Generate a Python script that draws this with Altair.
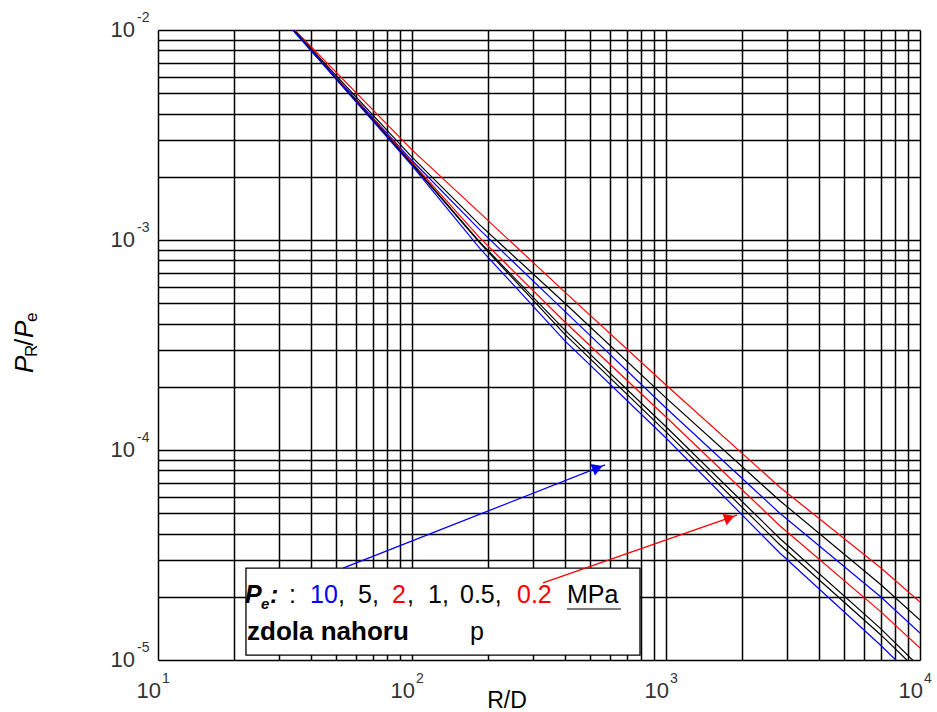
import altair as alt
import pandas as pd

W, H = 762, 630
L, T = 158, 30
FONT = "Liberation Sans"

# ---- data ----
rd = [34, 100, 185, 400, 1000, 2800, 7000, 10000]
series_names = ["0.2 top", "0.5", "blue mid", "2 red", "1", "5", "10 blue"]
series_colors = ["#ff0000", "#000000", "#0000ff", "#ff0000", "#000000", "#000000", "#0000ff"]
s_red_top = [1.02e-2, 2.685e-3, 1.346e-3, 5.65e-4, 2.04e-4, 6.67e-5, 2.75e-5, 1.89e-5]
s_black_top = [1.01e-2, 2.48e-3, 1.18e-3, 5.0e-4, 1.77e-4, 5.75e-5, 2.29e-5, 1.55e-5]
s_blue_mid = [1.0e-2, 2.39e-3, 1.117e-3, 4.57e-4, 1.585e-4, 5.01e-5, 2.0e-5, 1.345e-5]
s_red_mid = [1.0e-2, 2.34e-3, 1.023e-3, 4.07e-4, 1.435e-4, 4.37e-5, 1.70e-5, 1.14e-5]
s_black_b = [1.0e-2, 2.31e-3, 9.77e-4, 3.72e-4, 1.29e-4, 3.8e-5, 1.41e-5, 9.23e-6]
s_black_a = [1.0e-2, 2.29e-3, 9.68e-4, 3.55e-4, 1.22e-4, 3.55e-5, 1.32e-5, 8.7e-6]
s_blue_low = [1.0e-2, 2.26e-3, 9.12e-4, 3.31e-4, 1.14e-4, 3.24e-5, 1.175e-5, 7.7e-6]
all_series = [s_red_top, s_black_top, s_blue_mid, s_red_mid, s_black_b, s_black_a, s_blue_low]

x_grid = [k * 10 ** n for n in (1, 2, 3) for k in range(1, 10)] + [10000]
y_grid = [k * 10.0 ** n for n in (-5, -4, -3) for k in range(1, 10)] + [1e-2]
x_label_vals = [10, 100, 1000, 10000]
x_label_exp = ["1", "2", "3", "4"]
y_label_vals = [1e-2, 1e-3, 1e-4, 1e-5]
y_label_exp = ["-2", "-3", "-4", "-5"]

box_x = [22.2, 790]
box_y = [2.74e-5, 1.056e-5]
arrow_blue_x = [53.5, 575.6]
arrow_blue_y = [2.74e-5, 8.49e-5]
arrow_red_x = [328, 1905]
arrow_red_y = [2.33e-5, 4.9e-5]
head_blue = (538, 8.22e-5)
head_red = (1778, 4.76e-5)

rows = []
for name, vals in zip(series_names, all_series):
    for x, y in zip(rd, vals):
        rows.append({"series": name, "rd": x, "pr": y})
df = pd.DataFrame(rows)

xs = alt.Scale(type="log", domain=[10, 10000], nice=False)
ys = alt.Scale(type="log", domain=[1e-5, 1e-2], nice=False)

grid_axis_x = alt.Axis(values=x_grid, grid=True, gridColor="black", gridWidth=1.5, gridOpacity=1,
                       labels=False, ticks=False, domain=False, title=None)
grid_axis_y = alt.Axis(values=y_grid, grid=True, gridColor="black", gridWidth=1.5, gridOpacity=1,
                       labels=False, ticks=False, domain=False, title=None)

lines = alt.Chart(df).mark_line(strokeWidth=1.2, clip=True).encode(
    x=alt.X("rd:Q", scale=xs, axis=grid_axis_x),
    y=alt.Y("pr:Q", scale=ys, axis=grid_axis_y),
    color=alt.Color("series:N", scale=alt.Scale(domain=series_names, range=series_colors), legend=None),
    detail="series:N",
)

box = alt.Chart(pd.DataFrame({"x": [box_x[0]], "x2": [box_x[1]], "y": [box_y[0]], "y2": [box_y[1]]})).mark_rect(
    fill="white", stroke="black", strokeWidth=1.3).encode(
    x=alt.X("x:Q", scale=xs), x2="x2", y=alt.Y("y:Q", scale=ys), y2="y2")

def arrow(xv, yv, head, color, ang):
    d = pd.DataFrame({"x": xv, "y": yv})
    ln = alt.Chart(d).mark_line(color=color, strokeWidth=1.3).encode(
        x=alt.X("x:Q", scale=xs), y=alt.Y("y:Q", scale=ys))
    hd = alt.Chart(pd.DataFrame({"x": [head[0]], "y": [head[1]]})).mark_point(
        shape="triangle-right", filled=True, color=color, size=150, angle=ang, opacity=1).encode(
        x=alt.X("x:Q", scale=xs), y=alt.Y("y:Q", scale=ys))
    return ln + hd

arrows = arrow(arrow_blue_x, arrow_blue_y, head_blue, "#0000ff", 338.7) + \
    arrow(arrow_red_x, arrow_red_y, head_red, "#ff0000", 340.7)

# tick labels
xl = pd.DataFrame({"v": x_label_vals, "e": x_label_exp})
xl_base = alt.Chart(xl).mark_text(font=FONT, fontSize=22, align="right", baseline="alphabetic", dx=3, color="#333").encode(
    x=alt.X("v:Q", scale=xs), y=alt.value(698 - T), text=alt.value("10"))
xl_exp = alt.Chart(xl).mark_text(font=FONT, fontSize=14, align="left", baseline="alphabetic", dx=4, color="#333").encode(
    x=alt.X("v:Q", scale=xs), y=alt.value(683 - T), text="e:N")
yl = pd.DataFrame({"v": y_label_vals, "e": y_label_exp})
yl_base = alt.Chart(yl).mark_text(font=FONT, fontSize=22, align="right", baseline="alphabetic", dy=7, color="#333").encode(
    y=alt.Y("v:Q", scale=ys), x=alt.value(135 - L), text=alt.value("10"))
yl_exp = alt.Chart(yl).mark_text(font=FONT, fontSize=14, align="left", baseline="alphabetic", dy=-8, color="#333").encode(
    y=alt.Y("v:Q", scale=ys), x=alt.value(137 - L), text="e:N")

def txt(s, px, py, size=25, color="black", weight="normal", style="normal", angle=0, align="left"):
    return alt.Chart(pd.DataFrame({"t": [s]})).mark_text(
        font=FONT, fontSize=size, color=color, fontWeight=weight, fontStyle=style,
        angle=angle, align=align, baseline="alphabetic").encode(
        x=alt.value(px - L), y=alt.value(py - T), text="t:N")

texts = [
    txt("R/D", 507, 708, size=23, align="center"),
    txt("P", 33, 373, size=26, style="italic", angle=270),
    txt("R", 37, 357, size=17, angle=270),
    txt("/", 33, 346, size=26, angle=270),
    txt("P", 33, 338, size=26, style="italic", angle=270),
    txt("e", 37, 322, size=17, angle=270),
    # legend box text
    txt("P", 245, 603, weight="bold", style="italic"),
    txt("e", 261, 609, size=15, weight="bold", style="italic"),
    txt(":", 270, 603, weight="bold", style="italic"),
    txt(":", 289, 603),
    txt("10", 310, 603, color="#0000ff"),
    txt(",", 338, 603),
    txt("5,", 358, 603),
    txt("2", 392, 603, color="#ff0000"),
    txt(",", 407, 603),
    txt("1,", 428, 603),
    txt("0.5,", 460, 603),
    txt("0.2", 517, 603, color="#ff0000"),
    txt("MPa", 567, 603),
    txt("zdola nahoru", 247, 640, size=26, weight="bold"),
    txt("p", 470, 640),
]
underline = alt.Chart(pd.DataFrame({"a": [0]})).mark_rule(color="black", strokeWidth=1.2).encode(
    x=alt.value(567 - L), x2=alt.value(621 - L), y=alt.value(609 - T))

chart = alt.layer(lines, box, arrows, xl_base, xl_exp, yl_base, yl_exp, underline, *texts).properties(
    width=W, height=H,
    padding={"left": L, "top": T, "right": 937 - L - W, "bottom": 712 - T - H},
    autosize=alt.AutoSizeParams(type="none"),
).configure_view(stroke="black", strokeWidth=1.5).configure(background="white")

chart.save("out.html", embed_options={"renderer": "svg", "actions": False})
